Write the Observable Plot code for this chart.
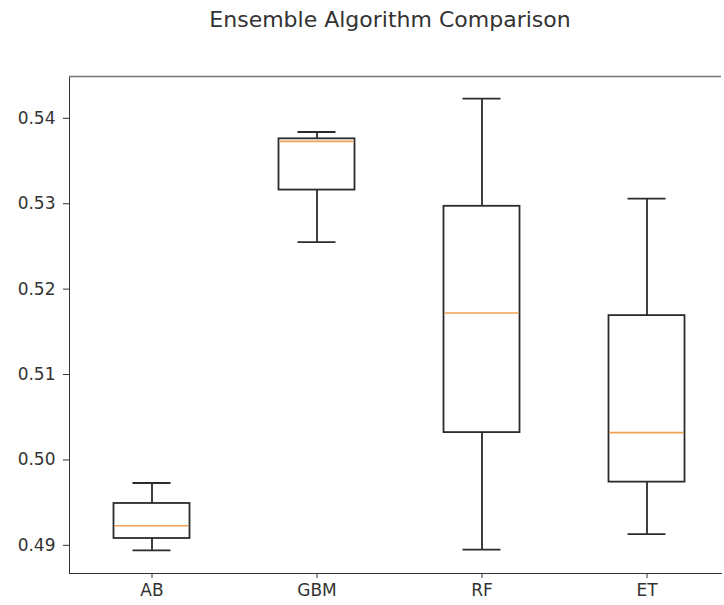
<!DOCTYPE html>
<html>
<head>
<meta charset="utf-8">
<script src="https://cdn.jsdelivr.net/npm/d3@7"></script>
<script src="https://cdn.jsdelivr.net/npm/@observablehq/plot@0.6"></script>
<style>
  html, body { margin: 0; padding: 0; background: #fff; }
  #wrap { position: relative; width: 724px; height: 605px; overflow: hidden; }
  #title { position: absolute; top: 7px; left: 390px; transform: translateX(-50%);
    font-family: "DejaVu Sans", sans-serif; font-size: 22px; color: #333; white-space: nowrap; }
  #chart { position: absolute; top: 0; left: 0; }
</style>
</head>
<body>
<div id="wrap">
  <div id="chart"></div>
  <div id="title">Ensemble Algorithm Comparison</div>
</div>
<script>
const names = ["AB", "GBM", "RF", "ET"];
const whiskerLow = [0.4894, 0.5255, 0.4895, 0.4913];
const q1 = [0.4908, 0.5316, 0.5032, 0.4974];
const median = [0.4923, 0.5373, 0.5172, 0.5032];
const q3 = [0.4949, 0.5376, 0.5297, 0.5169];
const whiskerHigh = [0.4973, 0.5384, 0.5423, 0.5306];
const yTicks = [0.49, 0.50, 0.51, 0.52, 0.53, 0.54];

const data = names.map((name, i) => ({
  name, lo: whiskerLow[i], q1: q1[i], med: median[i], q3: q3[i], hi: whiskerHigh[i]
}));

const ink = "#2b2b2b";
const chart = Plot.plot({
  width: 724,
  height: 605,
  marginLeft: 69,
  marginRight: 3,
  marginTop: 76,
  marginBottom: 32,
  style: { fontFamily: "DejaVu Sans, sans-serif", fontSize: "17px", color: "#333", background: "transparent" },
  x: { type: "band", domain: names, range: [69, 729], padding: 0, label: null, tickSize: 5, tickPadding: 5, line: true },
  y: { domain: [0.4867, 0.5449], ticks: yTicks, tickFormat: ".2f", label: null, tickSize: 6, tickPadding: 8, line: true },
  marks: [
    Plot.ruleY([0.5449], { stroke: "#777", strokeWidth: 1.6 }),
    Plot.ruleX(data, { x: "name", y1: "lo", y2: "q1", stroke: ink, strokeWidth: 1.8 }),
    Plot.ruleX(data, { x: "name", y1: "q3", y2: "hi", stroke: ink, strokeWidth: 1.8 }),
    Plot.tickY(data, { x: "name", y: "lo", inset: 63.5, stroke: ink, strokeWidth: 1.8 }),
    Plot.tickY(data, { x: "name", y: "hi", inset: 63.5, stroke: ink, strokeWidth: 1.8 }),
    Plot.barY(data, { x: "name", y1: "q1", y2: "q3", insetLeft: 44.5, insetRight: 44.5, fill: "white", stroke: ink, strokeWidth: 1.8 }),
    Plot.tickY(data, { x: "name", y: "med", inset: 45.5, stroke: "#f0a050", strokeWidth: 1.6 })
  ]
});
document.getElementById("chart").appendChild(chart);
</script>
</body>
</html>
